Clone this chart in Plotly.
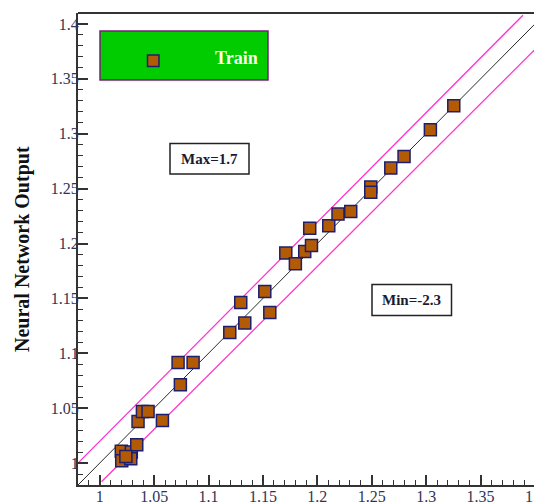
import plotly.graph_objects as go

# Target (x) vs network output (y)
target = [1.0198, 1.0202, 1.0290, 1.0285, 1.0340, 1.0240,
          1.0352, 1.0392, 1.0444, 1.0576,
          1.0720, 1.0741, 1.0858,
          1.1195, 1.1296, 1.1333, 1.1517, 1.1563,
          1.1710, 1.1798, 1.1884, 1.1930, 1.1946,
          1.2105, 1.2190, 1.2307, 1.2491, 1.2491,
          1.2675, 1.2797, 1.3039, 1.3254]
output = [1.0107, 1.0021, 1.0101, 1.0039, 1.0167, 1.0060,
          1.0379, 1.0470, 1.0470, 1.0388,
          1.0916, 1.0713, 1.0916,
          1.1190, 1.1463, 1.1275, 1.1563, 1.1372,
          1.1913, 1.1815, 1.1927, 1.2140, 1.1982,
          1.2161, 1.2268, 1.2291, 1.2514, 1.2468,
          1.2687, 1.2792, 1.3036, 1.3254]

ideal_x = [0.98, 1.4065]
ideal_y = [0.98, 1.4065]
upper_x = [0.98, 1.389]
upper_y = [1.0, 1.408]
lower_x = [1.0016, 1.4065]
lower_y = [0.983, 1.3832]

x_ticks = [1, 1.05, 1.1, 1.15, 1.2, 1.25, 1.3, 1.35, 1.4]
x_tick_labels = ["1", "1.05", "1.1", "1.15", "1.2", "1.25", "1.3", "1.35", "1.4"]
y_ticks = [1, 1.05, 1.1, 1.15, 1.2, 1.25, 1.3, 1.35, 1.4]
y_tick_labels = ["1", "1.05", "1.1", "1.15", "1.2", "1.25", "1.3", "1.35", "1.4"]

series_name = "Train"
max_label = "Max=1.7"
min_label = "Min=-2.3"
y_title = "Neural Network Output"

SERIF = "Liberation Serif"
OFF = 8  # page body margin offset
W, H = 542, 503
# desired plot area in viewport pixels: left 78, right 542, top 13, bottom 485
L = 78 - OFF
T = 13 - OFF
R = W - (542 - OFF)
B = H - (485 - OFF)
pw, ph = W - L - R, H - T - B

def px2paper_x(px):
    return (px - OFF - L) / pw

def px2paper_y(py):
    return (H - B - (py - OFF)) / ph

fig = go.Figure()
fig.add_trace(go.Scatter(x=ideal_x, y=ideal_y, mode="lines",
                         line=dict(color="#2a2a2a", width=1), showlegend=False))
fig.add_trace(go.Scatter(x=upper_x, y=upper_y, mode="lines",
                         line=dict(color="#FF33CC", width=1.3), showlegend=False))
fig.add_trace(go.Scatter(x=lower_x, y=lower_y, mode="lines",
                         line=dict(color="#FF33CC", width=1.3), showlegend=False))
fig.add_trace(go.Scatter(x=target, y=output, mode="markers", name=series_name,
                         marker=dict(symbol="square", size=12, color="#B35A05",
                                     line=dict(color="#1E1E6E", width=1.5)),
                         showlegend=False, cliponaxis=False))

axis_common = dict(showline=True, linecolor="#333333", linewidth=2,
                   ticks="inside", ticklen=10, tickwidth=1.5, tickcolor="#333333",
                   showgrid=False, zeroline=False, automargin=False,
                   tickfont=dict(family=SERIF, size=16, color="#333355"),
                   minor=dict(ticks="inside", ticklen=5, tickwidth=1.2,
                              tickcolor="#333333", dtick=0.01, showgrid=False))

fig.update_xaxes(range=[0.98, 1.4065], tickvals=x_ticks, ticktext=x_tick_labels,
                 ticklabelstandoff=-4, **axis_common)
fig.update_yaxes(range=[0.98, 1.41], tickvals=y_ticks, ticktext=y_tick_labels,
                 ticklabelstandoff=-6, **axis_common)

shapes = [
    # top frame
    dict(type="line", xref="paper", yref="paper", x0=0, x1=1, y0=1, y1=1,
         line=dict(color="#333333", width=2)),
    # legend box
    dict(type="rect", xref="paper", yref="paper",
         x0=px2paper_x(100), x1=px2paper_x(268),
         y0=px2paper_y(80), y1=px2paper_y(31),
         fillcolor="#00CC00", line=dict(color="#7A1F7A", width=1.5), layer="above"),
    # legend marker
    dict(type="rect", xref="paper", yref="paper",
         x0=px2paper_x(147.5), x1=px2paper_x(159),
         y0=px2paper_y(66.5), y1=px2paper_y(55),
         fillcolor="#B35A05", line=dict(color="#1E1E6E", width=1.5), layer="above"),
    # Max box
    dict(type="rect", xref="paper", yref="paper",
         x0=px2paper_x(170), x1=px2paper_x(249),
         y0=px2paper_y(174), y1=px2paper_y(143.5),
         fillcolor="white", line=dict(color="#222222", width=1.5), layer="above"),
    # Min box
    dict(type="rect", xref="paper", yref="paper",
         x0=px2paper_x(372), x1=px2paper_x(451.5),
         y0=px2paper_y(315.5), y1=px2paper_y(284.5),
         fillcolor="white", line=dict(color="#222222", width=1.5), layer="above"),
]

annotations = [
    dict(text="<b>" + series_name + "</b>", xref="paper", yref="paper",
         x=px2paper_x(236), y=px2paper_y(58), showarrow=False,
         font=dict(family=SERIF, size=18, color="#FFFFE6"),
         xanchor="center", yanchor="middle"),
    dict(text="<b>" + max_label + "</b>", xref="paper", yref="paper",
         x=px2paper_x(209.5), y=px2paper_y(159), showarrow=False,
         font=dict(family=SERIF, size=15, color="#1a1a33"),
         xanchor="center", yanchor="middle"),
    dict(text="<b>" + min_label + "</b>", xref="paper", yref="paper",
         x=px2paper_x(411.7), y=px2paper_y(300), showarrow=False,
         font=dict(family=SERIF, size=15, color="#1a1a33"),
         xanchor="center", yanchor="middle"),
    dict(text="<b>" + y_title + "</b>", xref="paper", yref="paper",
         x=px2paper_x(22), y=px2paper_y(249), showarrow=False, textangle=-90,
         font=dict(family=SERIF, size=20, color="#111111"),
         xanchor="center", yanchor="middle"),
]

fig.update_layout(width=W, height=H, margin=dict(l=L, r=R, t=T, b=B),
                  paper_bgcolor="white", plot_bgcolor="white",
                  shapes=shapes, annotations=annotations, showlegend=False)

fig.write_html("out.html")
